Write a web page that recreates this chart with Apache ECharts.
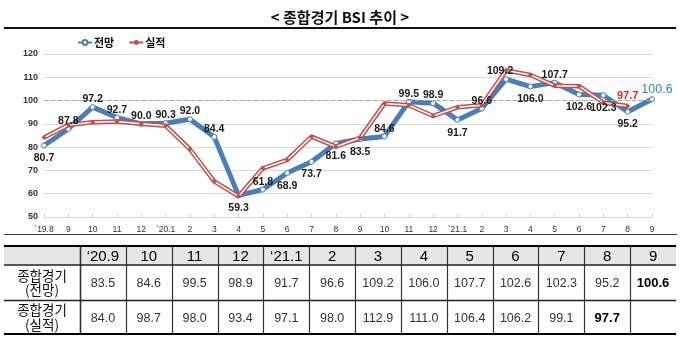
<!DOCTYPE html>
<html>
<head>
<meta charset="utf-8">
<script src="https://cdn.jsdelivr.net/npm/echarts@6/dist/echarts.min.js"></script>
<style>
html,body{margin:0;padding:0;background:#fff;}
#chart{width:680px;height:340px;}
</style>
</head>
<body>
<div id="chart"></div>
<script>
// ---- data ----
const categories = ['`19.8','9','10','11','12','`20.1','2','3','4','5','6','7','8','9','10','11','12','`21.1','2','3','4','5','6','7','8','9'];
const outlook = [80.7,87.8,97.2,92.7,90.0,90.3,92.0,84.4,59.3,61.8,68.9,73.7,81.6,83.5,84.6,99.5,98.9,91.7,96.6,109.2,106.0,107.7,102.6,102.3,95.2,100.6];
const actual  = [84.1,89.5,90.7,91.0,90.0,89.2,79.1,65.3,58.9,70.9,74.5,84.5,80.2,84.0,98.7,98.0,93.4,97.1,98.0,112.9,111.0,106.4,106.2,99.1,97.7,null];
const yTicks = [50,60,70,80,90,100,110,120];
const tableHeaders = ['\u201820.9','10','11','12','\u201821.1','2','3','4','5','6','7','8','9'];
const tableStart = 13;
const rowLabelTop = ['종합경기','종합경기'];
const rowLabelBottom = ['(전망)','(실적)'];

// label placement (presentation only)
const belowIdx = [0,8,10,11,12,13,17,20,22,23,24];

const BLUE = '#4a7ebb', RED = '#c0504d';
const FONT = '"Liberation Sans", Arial, "Noto Sans CJK KR", sans-serif';
const KFONT = '"Noto Sans CJK KR", "Liberation Sans", sans-serif';
const fmt1 = p => (p.value == null ? '' : Number(p.value).toFixed(1));

const labelData = outlook.map((v, i) => {
  const below = belowIdx.indexOf(i) >= 0;
  const item = { value: v, label: { position: below ? 'bottom' : 'top', distance: below ? 5 : 0 } };
  if (i === outlook.length - 1) {
    item.label = { position: 'top', distance: 1, offset: [5, 0], color: '#2e86c8', fontSize: 12.5, fontWeight: 'normal' };
  }
  if (i === 19) item.label.offset = [-6, 0];
  return item;
});
const actualLabelData = actual.map((v, i) => (i === 24 ? { value: v, label: { show: true } } : v));

// ---- table graphics ----
const graphics = [];
const tL = 4, tR = 676, c0 = 80;
const colW = (tR - c0) / tableHeaders.length;
const yTop = 246, yH = 265, yR1 = 300.5, yBot = 334;
graphics.push({ type: 'rect', shape: { x: tL, y: yTop, width: tR - tL, height: yH - yTop }, style: { fill: '#e6e6e6' } });
graphics.push({ type: 'line', shape: { x1: 4, y1: 28, x2: 676, y2: 28 }, style: { stroke: '#111', lineWidth: 2 } });
graphics.push({ type: 'line', shape: { x1: 4, y1: 234.5, x2: 677, y2: 234.5 }, style: { stroke: '#444', lineWidth: 1.2 } });
for (let j = 0; j <= tableHeaders.length - 1; j++) {
  const x = Math.round(c0 + j * colW) + 0.5;
  graphics.push({ type: 'line', shape: { x1: x, y1: yTop, x2: x, y2: yBot }, style: { stroke: '#333', lineWidth: j === 0 ? 1.6 : 1.2 } });
}
graphics.push({ type: 'line', shape: { x1: tL, y1: yH, x2: tR, y2: yH }, style: { stroke: '#222', lineWidth: 1.4 } });
graphics.push({ type: 'line', shape: { x1: tL, y1: yR1, x2: tR, y2: yR1 }, style: { stroke: '#222', lineWidth: 1.4 } });
graphics.push({ type: 'line', shape: { x1: tL, y1: yTop, x2: tR, y2: yTop }, style: { stroke: '#000', lineWidth: 2.2 } });
graphics.push({ type: 'line', shape: { x1: tL, y1: yBot, x2: tR, y2: yBot }, style: { stroke: '#000', lineWidth: 2.2 } });
tableHeaders.forEach((h, j) => {
  const cx = c0 + (j + 0.5) * colW;
  graphics.push({ type: 'text', x: cx, y: (yTop + yH) / 2 + 1, style: { text: h, fill: '#000', font: '15px ' + FONT, align: 'center', verticalAlign: 'middle' } });
  const vo = outlook[tableStart + j], va = actual[tableStart + j];
  const lastO = tableStart + j === outlook.length - 1;
  const lastA = tableStart + j === actual.length - 2;
  if (vo != null) graphics.push({ type: 'text', x: cx, y: (yH + yR1) / 2 + 1, style: { text: vo.toFixed(1), fill: lastO ? '#000' : '#333', font: (lastO ? 'bold 13px ' : '12.5px ') + FONT, align: 'center', verticalAlign: 'middle' } });
  if (va != null) graphics.push({ type: 'text', x: cx, y: (yR1 + yBot) / 2 + 1, style: { text: va.toFixed(1), fill: lastA ? '#000' : '#333', font: (lastA ? 'bold 13px ' : '12.5px ') + FONT, align: 'center', verticalAlign: 'middle' } });
});
rowLabelTop.forEach((t, r) => {
  const cy = r === 0 ? (yH + yR1) / 2 : (yR1 + yBot) / 2;
  graphics.push({ type: 'text', x: 42, y: cy - 7, style: { text: t, fill: '#111', font: '13.5px ' + KFONT, align: 'center', verticalAlign: 'middle' } });
  graphics.push({ type: 'text', x: 42, y: cy + 7.5, style: { text: rowLabelBottom[r], fill: '#111', font: '13.5px ' + KFONT, align: 'center', verticalAlign: 'middle' } });
});

const chart = echarts.init(document.getElementById('chart'), null, { renderer: 'canvas' });
chart.setOption({
  animation: false,
  backgroundColor: '#fff',
  title: {
    text: '< 종합경기 BSI 추이 >', left: 'center', top: 5,
    textStyle: { fontFamily: KFONT, fontSize: 15, fontWeight: 'bold', color: '#111' }
  },
  legend: {
    data: ['전망', '실적'], left: 72, top: 32, itemWidth: 14, itemHeight: 6, itemGap: 14,
    textStyle: { fontFamily: KFONT, fontSize: 11, fontWeight: 'bold', color: '#111', padding: [0, 0, 0, -3] }
  },
  grid: { left: 44, right: 28, top: 54, bottom: 123, containLabel: false },
  xAxis: {
    type: 'category', data: categories, boundaryGap: false,
    axisLine: { show: true, lineStyle: { color: '#d9d9d9' } },
    axisTick: { show: true, inside: true, length: 3, alignWithLabel: true, lineStyle: { color: '#d0d0d0' } },
    axisLabel: { interval: 0, fontSize: 8.5, color: '#333', fontFamily: FONT, margin: 8 }
  },
  yAxis: {
    type: 'value', min: yTicks[0], max: yTicks[yTicks.length - 1], interval: 10,
    axisLine: { show: false }, axisTick: { show: false },
    splitLine: { lineStyle: { color: '#dadada', width: 1 } },
    axisLabel: { fontSize: 9, color: '#333', fontWeight: 'bold', fontFamily: FONT, margin: 6 }
  },
  series: [
    {
      name: '전망', type: 'line', data: outlook, z: 2,
      lineStyle: { color: BLUE, width: 5 },
      symbol: 'circle', symbolSize: 5, showAllSymbol: true,
      itemStyle: { color: '#fff', borderColor: BLUE, borderWidth: 1 },
      markLine: {
        silent: true, symbol: 'none', label: { show: false },
        lineStyle: { color: '#a8a8a8', type: [4, 3], width: 1 },
        data: [{ yAxis: 100 }]
      }
    },
    {
      name: '실적', type: 'line', data: actual, z: 3,
      lineStyle: { color: RED, width: 4.5 }, symbol: 'none',
      itemStyle: { color: RED }
    },
    {
      name: '실적-inner', type: 'line', data: actualLabelData, z: 4,
      lineStyle: { color: '#fff', width: 1.5 },
      symbol: 'diamond', symbolSize: 5, showAllSymbol: true,
      itemStyle: { color: RED },
      label: { show: false, formatter: fmt1, position: 'top', distance: 2, color: '#e02424', fontSize: 11, fontWeight: 'bold', fontFamily: FONT }
    },
    {
      name: '전망-label', type: 'line', data: labelData, z: 6, silent: true,
      lineStyle: { color: 'rgba(0,0,0,0)', width: 0 }, symbol: 'circle', symbolSize: 5, showAllSymbol: true,
      itemStyle: { color: 'rgba(0,0,0,0)', borderWidth: 0 },
      label: { show: true, formatter: fmt1, fontSize: 10.5, fontWeight: 'bold', color: '#1a1a1a', fontFamily: FONT }
    }
  ],
  graphic: graphics
});
</script>
</body>
</html>
